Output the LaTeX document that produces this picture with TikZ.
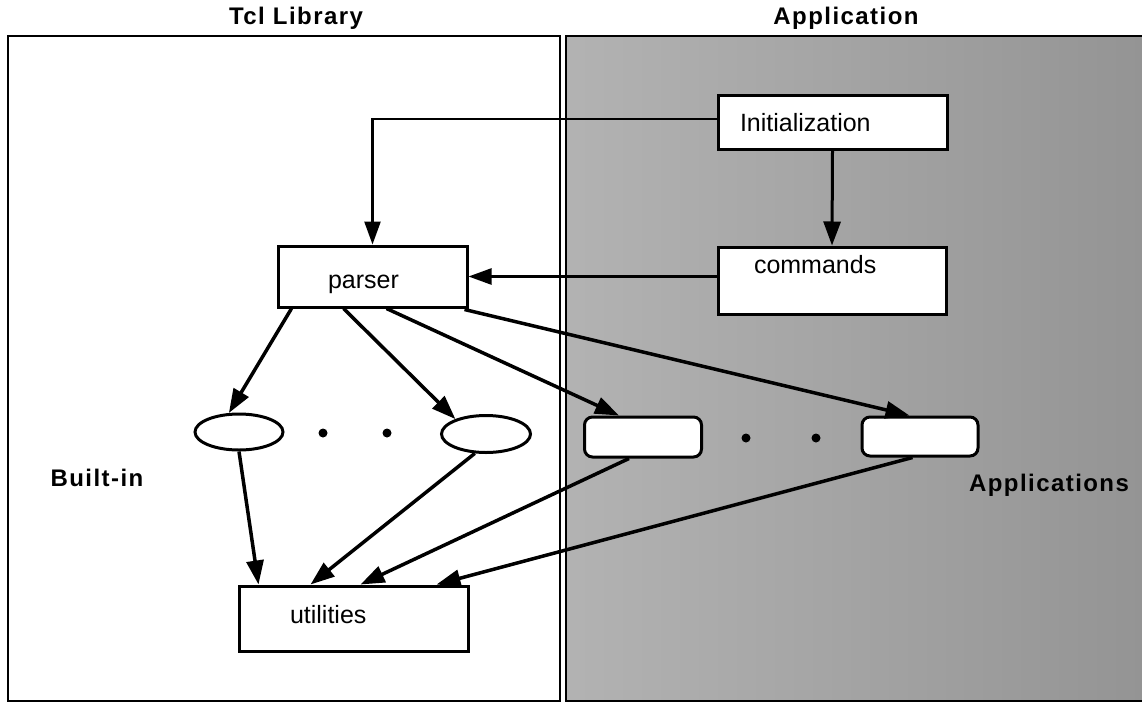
\documentclass[tikz,border=0pt]{standalone}
\usepackage{fontspec}
\setmainfont{Liberation Sans}
\usetikzlibrary{arrows.meta,calc,shapes.geometric}
\begin{document}
\begin{tikzpicture}[x=1pt,y=-1pt,
  panel/.style={draw=black,line width=2.5pt},
  box/.style={draw=black,line width=3pt,fill=white,inner sep=0pt,
    font=\fontsize{25}{30}\selectfont},
  appbox/.style={draw=black,line width=3pt,fill=white,rounded corners=8pt,
    minimum width=117pt,minimum height=40pt,inner sep=0pt},
  builtin/.style={draw=black,line width=3pt,fill=white,ellipse,
    minimum width=88pt,minimum height=36pt,inner sep=0pt},
  heading/.style={font=\fontsize{24}{28}\selectfont\bfseries\addfontfeatures{LetterSpace=6}},
  flow/.style={line width=3.5pt,-{Triangle[length=24pt,width=17pt]}},
  thinflow/.style={line width=2.5pt,-{Triangle[length=23pt,width=16pt]}},
  dot/.style={circle,fill=black,inner sep=0pt,minimum size=9pt}
]
\useasboundingbox (0,0) rectangle (1142,704);

% two panels: library (left) and application (right)
\draw[panel,fill=white] (8,36) rectangle (560,701);
\shade[left color=black!30,right color=black!42] (566,36) rectangle (1146,701);
\draw[panel] (566,36) rectangle (1146,701);

% panel titles
\node[heading] (tcltitle) at (296,18) {Tcl Library};
\node[heading] (apptitle) at (846,18) {Application};

% application boxes
\node[box,minimum width=229pt,minimum height=54pt,text width=185pt,align=left,
      text height=18pt,text depth=0pt] (init) at (832.5,122) {Initialization};
\node[box,minimum width=228pt,minimum height=67pt,text width=156pt,align=left,
      text height=18pt,text depth=32pt] (cmds) at (832,280.5) {commands};

% library boxes
\node[box,minimum width=189pt,minimum height=61pt,text width=89pt,align=left,
      text height=29pt,text depth=5pt] (parser) at (372.5,276.5) {parser};
\node[box,minimum width=229pt,minimum height=65pt,text width=127pt,align=left,
      text height=18pt,text depth=8pt] (util) at (353.5,618.5) {utilities};

% built-in commands
\node[builtin] (b1) at (239,432) {};
\node[builtin,minimum width=89pt,minimum height=37pt] (b2) at (486,434) {};
\node[dot] (bd1) at (323,433) {};
\node[dot] (bd2) at (387,433) {};

% application commands
\node[appbox] (a1) at (643,437) {};
\node[appbox,minimum width=116pt,minimum height=39pt] (a2) at (920,436.5) {};
\node[dot] (ad1) at (746,438) {};
\node[dot] (ad2) at (816,438) {};

% side labels
\node[heading] (builtinlbl) at (97,478) {Built-in};
\node[heading] (applbl) at (1049,485) {Applications};

% control flow
\draw[thinflow] ($(init.west)+(0,-3)$) -| (parser.north);
\draw[flow,line width=3pt] (init.south) -- (cmds.north);
\draw[thinflow] (cmds.west |- parser.east) -- (parser.east);

\draw[flow] ($(parser.south west)+(15,0)$) -- (b1.118);
\draw[flow] ($(parser.south west)+(67,0)$) -- (b2.154);
\draw[flow] ($(parser.south west)+(110,0)$) -- ($(a1.north west)+(36,0)$);
\draw[flow] ($(parser.south east)+(-4,1)$) -- ($(a2.north west)+(49,0)$);

\draw[flow] (b1.south) -- ($(util.north west)+(21,0)$);
\draw[flow] (b2.240) -- ($(util.north west)+(73,0)$);
\draw[flow] ($(a1.south west)+(46,0)$) -- ($(util.north west)+(123,0)$);
\draw[flow] ($(a2.south west)+(52,0)$) -- ($(util.north west)+(199,0)$);
\end{tikzpicture}
\end{document}
